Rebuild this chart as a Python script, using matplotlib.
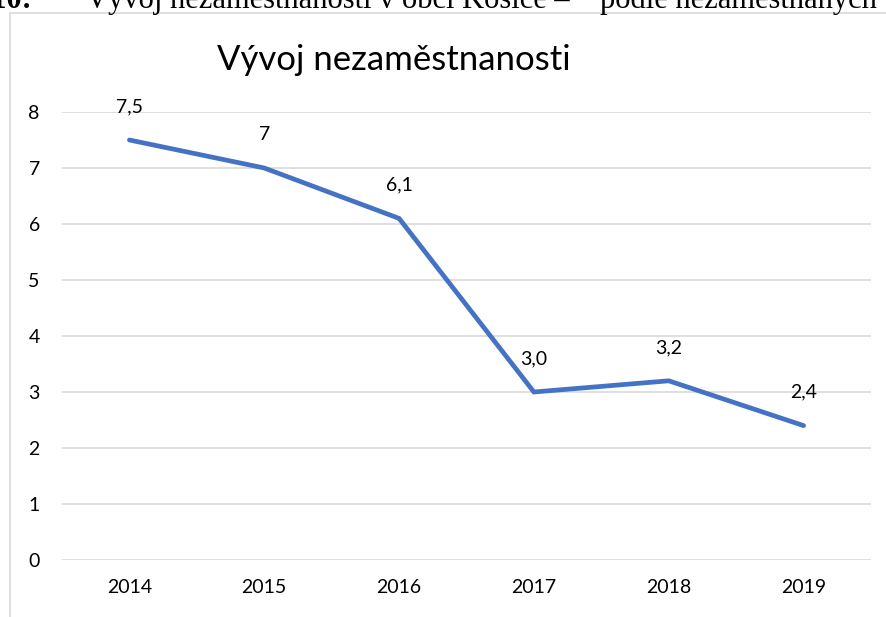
import matplotlib.pyplot as plt
from matplotlib.patches import Rectangle

# data
roky = ['2014', '2015', '2016', '2017', '2018', '2019']
nezamestnanost = [7.5, 7.0, 6.1, 3.0, 3.2, 2.4]
popisky = ['7,5', '7', '6,1', '3,0', '3,2', '2,4']
y_ticky = [0, 1, 2, 3, 4, 5, 6, 7, 8]

plt.rcParams['font.family'] = ['Lato', 'DejaVu Sans']

fig = plt.figure(figsize=(8.86, 6.17), dpi=100)

# rámeček grafu (pokračuje mimo obrázek vpravo a dole)
ramecek = Rectangle((10 / 886, -0.1), 1.2, 1 - 13 / 617 + 0.1,
                    transform=fig.transFigure, fill=False,
                    edgecolor='#d9d9d9', lw=1.2, zorder=0)
fig.patches.append(ramecek)

# odříznutý popisek nad grafem (zarovnaný do bloku, proto ve dvou částech)
fig.text(32 / 886, 1 - 8 / 617, 'ar 10:', family=['Liberation Serif'],
         fontsize=22, fontweight='bold', ha='right', va='baseline')
fig.text(86 / 886, 1 - 8 / 617, 'Vývoj nezaměstnanosti v obci Kosice –',
         family=['Liberation Serif'], fontsize=22, ha='left', va='baseline')
fig.text(600 / 886, 1 - 8 / 617, 'podle nezaměstnaných',
         family=['Liberation Serif'], fontsize=22, ha='left', va='baseline')

ax = fig.add_axes([62 / 886, 57 / 617, 809 / 886, 448 / 617])
x = range(len(roky))
ax.plot(x, nezamestnanost, color='#4472C4', lw=3.4, solid_capstyle='round',
        solid_joinstyle='miter', zorder=3)

for i, (v, t) in enumerate(zip(nezamestnanost, popisky)):
    ax.annotate(t, (i, v), xytext=(0, 24), textcoords='offset points',
                ha='center', va='center', fontsize=14, color='#000000')

ax.set_xlim(-0.5, len(roky) - 0.5)
ax.set_ylim(0, 8)
ax.set_xticks(list(x))
ax.set_xticklabels(roky)
ax.set_yticks(y_ticky)
ax.tick_params(axis='both', length=0, labelsize=14, colors='#000000')
ax.tick_params(axis='x', pad=14)
ax.tick_params(axis='y', pad=16)
ax.grid(axis='y', color='#d9d9d9', lw=1.2)
ax.set_axisbelow(True)
for s in ax.spines.values():
    s.set_visible(False)

fig.text(394 / 886, 1 - 60 / 617, 'Vývoj nezaměstnanosti', fontsize=25,
         ha='center', va='center', color='#000000')

fig.savefig('out.png', dpi=100)
